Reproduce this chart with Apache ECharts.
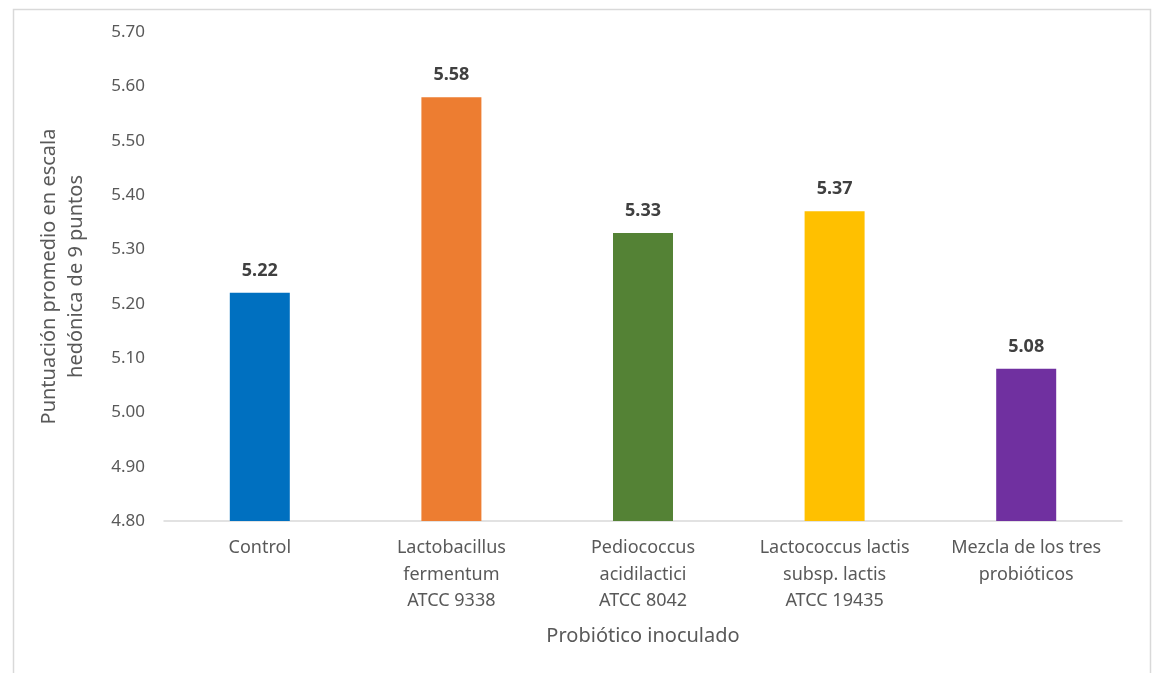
<!DOCTYPE html>
<html>
<head>
<meta charset="utf-8">
<script src="https://cdn.jsdelivr.net/npm/echarts@6/dist/echarts.min.js"></script>
<style>
  html, body { margin: 0; padding: 0; background: #fff; }
  #chart { width: 1156px; height: 673px; }
</style>
</head>
<body>
<div id="chart"></div>
<script>
// Probiotic treatments and their mean hedonic score
const categories = [
  'Control',
  'Lactobacillus\nfermentum\nATCC 9338',
  'Pediococcus\nacidilactici\nATCC 8042',
  'Lactococcus lactis\nsubsp. lactis\nATCC 19435',
  'Mezcla de los tres\nprobióticos'
];
const scores = [5.22, 5.58, 5.33, 5.37, 5.08];
const barColors = ['#0070C0', '#ED7D31', '#548235', '#FFC000', '#7030A0'];
const yTitle = 'Puntuación promedio en escala\nhedónica de 9 puntos';
const xTitle = 'Probiótico inoculado';

const FONT = '"Noto Sans", "Open Sans", sans-serif';

const chart = echarts.init(document.getElementById('chart'), null, { renderer: 'canvas' });
chart.setOption({
  animation: false,
  backgroundColor: '#ffffff',
  graphic: [{
    type: 'rect',
    left: 11, top: 7,
    shape: { width: 1137, height: 700 },
    style: { fill: 'none', stroke: '#D9D9D9', lineWidth: 1.5 },
    silent: true
  }],
  grid: { left: 164, right: 34, top: 32, bottom: 152, containLabel: false },
  xAxis: {
    type: 'category',
    data: categories,
    name: xTitle,
    nameLocation: 'middle',
    nameGap: 105,
    nameTextStyle: { fontFamily: FONT, fontSize: 20, color: '#595959' },
    axisLine: { lineStyle: { color: '#D9D9D9', width: 1.5 } },
    axisTick: { show: false },
    axisLabel: {
      fontFamily: FONT, fontSize: 18, color: '#595959',
      lineHeight: 26.5, margin: 14, interval: 0
    }
  },
  yAxis: {
    type: 'value',
    min: 4.8, max: 5.7, interval: 0.1,
    name: yTitle,
    nameLocation: 'middle',
    nameGap: 74,
    nameRotate: 90,
    nameTextStyle: { fontFamily: FONT, fontSize: 20, color: '#595959', lineHeight: 27, align: 'center' },
    axisLine: { show: false },
    axisTick: { show: false },
    splitLine: { show: false },
    axisLabel: {
      fontFamily: FONT, fontSize: 17, color: '#595959', margin: 19,
      formatter: v => v.toFixed(2)
    }
  },
  series: [{
    type: 'bar',
    barWidth: 60,
    data: scores.map((v, i) => ({ value: v, itemStyle: { color: barColors[i] } })),
    label: {
      show: true,
      position: 'top',
      distance: 13,
      fontFamily: FONT, fontSize: 18, fontWeight: 'bold', color: '#404040',
      formatter: p => p.value.toFixed(2)
    }
  }]
});
</script>
</body>
</html>
